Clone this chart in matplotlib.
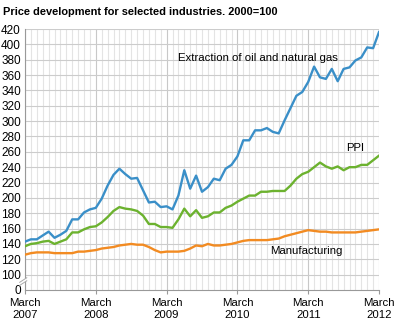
import numpy as np
import matplotlib
matplotlib.use("Agg")
import matplotlib.pyplot as plt

plt.rcParams['font.family'] = ['Liberation Sans', 'DejaVu Sans']

# monthly index values, March 2007 - March 2012
extraction = [143, 146, 146, 151, 156, 148, 152, 157, 172, 172, 181, 185,
              187, 199, 216, 230, 238, 231, 225, 226, 210, 194, 195, 188,
              189, 185, 203, 236, 212, 229, 208, 214, 225, 223, 238, 243,
              254, 275, 275, 288, 288, 291, 286, 284, 301, 317, 333, 338,
              351, 371, 357, 355, 368, 352, 368, 370, 379, 383, 396, 395,
              416]
ppi = [137, 140, 141, 143, 144, 140, 143, 146, 155, 155, 159, 162,
       163, 168, 175, 183, 188, 186, 185, 183, 177, 166, 166, 162,
       162, 161, 172, 186, 176, 184, 174, 176, 181, 181, 187, 190,
       195, 199, 203, 203, 208, 208, 209, 209, 209, 216, 225, 231,
       234, 240, 246, 241, 238, 241, 236, 240, 240, 243, 243, 249,
       255]
manufacturing = [126, 128, 129, 129, 129, 128, 128, 128, 128, 130, 130, 131,
                 132, 134, 135, 136, 138, 139, 140, 139, 139, 136, 132, 129,
                 130, 130, 130, 131, 134, 138, 137, 140, 138, 138, 139, 140,
                 142, 144, 145, 145, 145, 145, 146, 147, 150, 152, 154, 156,
                 158, 157, 156, 156, 155, 155, 155, 155, 155, 156, 157, 158,
                 159]
year_labels = ["March\n2007", "March\n2008", "March\n2009", "March\n2010",
               "March\n2011", "March\n2012"]
y_ticks = [80] + list(range(100, 421, 20))
y_labels = ["0"] + [str(v) for v in range(100, 421, 20)]

months = np.arange(len(extraction))

fig = plt.figure(figsize=(3.94, 3.22), dpi=100)
ax = fig.add_axes([25 / 394, 32 / 322, 354 / 394, 261 / 322])

# grid
for m in range(0, 61):
    ax.axvline(m, color='#c8c8c8' if m % 12 == 0 else '#e4e4e4', lw=0.8, zorder=0)
for v in y_ticks[1:]:
    ax.axhline(v, color='#cccccc', lw=0.8, zorder=0)

ax.plot(months, extraction, color='#3a8fc8', lw=1.7, zorder=3)
ax.plot(months, ppi, color='#6cb22f', lw=1.7, zorder=3)
ax.plot(months, manufacturing, color='#f28b22', lw=1.7, zorder=3)

ax.set_xlim(0, 60)
ax.set_ylim(80, 420)
ax.set_yticks(y_ticks)
ax.set_yticklabels(y_labels)
ax.set_xticks(range(0, 61, 12))
ax.set_xticklabels(year_labels, linespacing=1.15)
ax.tick_params(axis='y', length=0, labelsize=8.5, pad=3)
ax.tick_params(axis='x', length=3, color='#999999', labelsize=8.2, pad=3)

for s in ['top', 'right']:
    ax.spines[s].set_visible(False)
ax.spines['left'].set_color('#999999')
ax.spines['bottom'].set_color('#999999')
ax.spines['left'].set_linewidth(0.8)
ax.spines['bottom'].set_linewidth(0.8)

# axis break marks
ax.plot([-0.5, 0.0], [88, 93], color='white', lw=2, clip_on=False, zorder=3)
for dy in (0, 4):
    ax.plot([-0.9, 0.3], [86 + dy, 92 + dy], color='#aaaaaa', lw=0.7,
            clip_on=False, zorder=4)

ax.text(26, 382, "Extraction of oil and natural gas", fontsize=8.2, ha='left', va='center')
ax.text(54.4, 265, "PPI", fontsize=8.2, ha='left', va='center')
ax.text(41.5, 131, "Manufacturing", fontsize=8.2, ha='left', va='center')

fig.text(3 / 394, 1 - 12 / 322, "Price development for selected industries. 2000=100",
         fontsize=7.9, fontweight='bold', ha='left', va='center')

fig.savefig("out.png", dpi=100)
